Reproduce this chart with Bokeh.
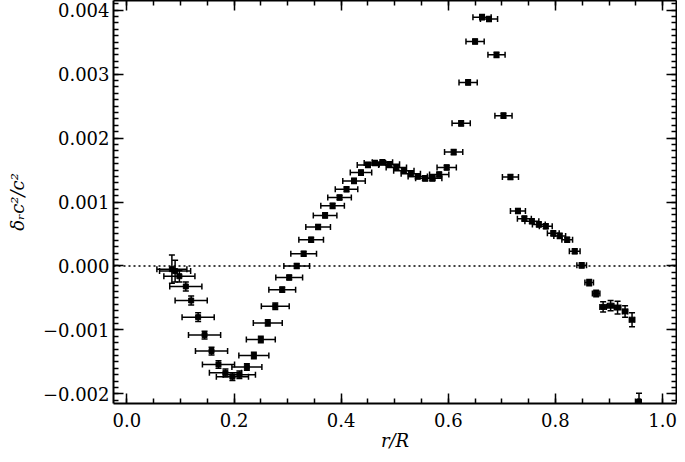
from bokeh.plotting import figure
from bokeh.models import (ColumnDataSource, Whisker, TeeHead, Span, LinearAxis,
                          SingleIntervalTicker, CustomJSTickFormatter, Range1d)
from bokeh.embed import file_html
from bokeh.resources import INLINE

# ---- data ----
r = [0.084, 0.090, 0.098, 0.110, 0.120, 0.133, 0.145, 0.158, 0.171, 0.184,
     0.197, 0.210, 0.224, 0.237, 0.250, 0.263, 0.277, 0.290, 0.303, 0.317,
     0.330, 0.344, 0.357, 0.370, 0.384, 0.397, 0.410, 0.424, 0.437, 0.450,
     0.463, 0.477, 0.490, 0.503, 0.517, 0.530, 0.543, 0.557, 0.570, 0.583,
     0.597, 0.610, 0.624, 0.637, 0.650, 0.663, 0.676, 0.690, 0.703, 0.716,
     0.730, 0.742, 0.756, 0.769, 0.782, 0.796, 0.808, 0.822, 0.836, 0.849,
     0.863, 0.876, 0.889, 0.903, 0.916, 0.930, 0.943, 0.956]

dc2 = [-0.00005, -0.00008, -0.00016, -0.00032, -0.00054, -0.00080, -0.00108, -0.00133, -0.00154, -0.00167,
       -0.00173, -0.00170, -0.00158, -0.00140, -0.00115, -0.00089, -0.00063, -0.00037, -0.00018, 0.00000,
       0.00019, 0.00041, 0.00061, 0.00079, 0.00094, 0.00107, 0.00120, 0.00133, 0.00146, 0.00158,
       0.00161, 0.00162, 0.00159, 0.00154, 0.00149, 0.00144, 0.00140, 0.00137, 0.00137, 0.00143,
       0.00154, 0.00178, 0.00223, 0.00287, 0.00351, 0.00389, 0.00386, 0.00330, 0.00235, 0.00139,
       0.00086, 0.00074, 0.00070, 0.00065, 0.00062, 0.00051, 0.00047, 0.00041, 0.00023, 0.00001,
       -0.00026, -0.00043, -0.00064, -0.00062, -0.00065, -0.00071, -0.00084, -0.00212]

r_err = [0.028, 0.029, 0.029, 0.030, 0.030, 0.030, 0.030, 0.030, 0.030, 0.030,
         0.030, 0.030, 0.028, 0.028, 0.027, 0.027, 0.026, 0.025, 0.025, 0.024,
         0.024, 0.023, 0.023, 0.022, 0.022, 0.022, 0.021, 0.021, 0.020, 0.020,
         0.020, 0.019, 0.019, 0.019, 0.019, 0.018, 0.018, 0.018, 0.018, 0.018,
         0.018, 0.017, 0.017, 0.017, 0.017, 0.017, 0.016, 0.016, 0.016, 0.015,
         0.014, 0.013, 0.013, 0.012, 0.012, 0.011, 0.011, 0.010, 0.010, 0.009,
         0.008, 0.007, 0.006, 0.006, 0.006, 0.005, 0.005, 0.002]

dc2_err = [0.00022, 0.00017, 0.00009, 0.00007, 0.00007, 0.00007, 0.00006, 0.00006, 0.00006, 0.00006,
           0.00006, 0.00006, 0.00005, 0.00005, 0.00005, 0.00005, 0.00005, 0.00004, 0.00004, 0.00004,
           0.00004, 0.00004, 0.00004, 0.00004, 0.00004, 0.00004, 0.00004, 0.00004, 0.00004, 0.00004,
           0.00004, 0.00004, 0.00004, 0.00004, 0.00004, 0.00004, 0.00004, 0.00004, 0.00004, 0.00004,
           0.00004, 0.00004, 0.00004, 0.00004, 0.00004, 0.00004, 0.00004, 0.00004, 0.00004, 0.00004,
           0.00004, 0.00004, 0.00004, 0.00004, 0.00004, 0.00004, 0.00004, 0.00004, 0.00004, 0.00004,
           0.00005, 0.00005, 0.00008, 0.00008, 0.00010, 0.00009, 0.00011, 0.00013]

assert len(r) == len(dc2) == len(r_err) == len(dc2_err)

x_range = (-0.025, 1.026)
y_range = (-0.00215, 0.00415)

src = ColumnDataSource(dict(
    x=r, y=dc2,
    xl=[a - e for a, e in zip(r, r_err)], xu=[a + e for a, e in zip(r, r_err)],
    yl=[a - e for a, e in zip(dc2, dc2_err)], yu=[a + e for a, e in zip(dc2, dc2_err)],
))

FONT = "DejaVu Serif"

p = figure(width=677, height=454, output_backend="svg", toolbar_location=None,
           x_range=Range1d(*x_range), y_range=Range1d(*y_range),
           min_border_left=113, min_border_right=1, min_border_top=0, min_border_bottom=51)
p.grid.visible = False
p.outline_line_color = None
p.background_fill_color = "white"
p.border_fill_color = "white"

xt = SingleIntervalTicker(interval=0.2, num_minor_ticks=4)
yt = SingleIntervalTicker(interval=0.001, num_minor_ticks=10)

xfmt = CustomJSTickFormatter(code="return (Math.abs(tick) < 1e-9 ? 0 : tick).toFixed(1).replace('-', '\u2212');")
yfmt = CustomJSTickFormatter(code="return (Math.abs(tick) < 1e-12 ? 0 : tick).toFixed(3).replace('-', '\u2212');")
blank = CustomJSTickFormatter(code="return '';")


def style(ax, labels=True):
    ax.axis_line_width = 2
    ax.axis_line_color = "black"
    ax.major_tick_in = 10
    ax.major_tick_out = 0
    ax.minor_tick_in = 5
    ax.minor_tick_out = 0
    ax.major_tick_line_width = 1.5
    ax.minor_tick_line_width = 1.5
    ax.major_tick_line_color = "black"
    ax.minor_tick_line_color = "black"
    if labels:
        ax.major_label_text_font = FONT
        ax.major_label_text_font_size = "18px"
        ax.major_label_text_color = "black"
        ax.axis_label_text_font = FONT
        ax.axis_label_text_font_size = "18px"
        ax.axis_label_text_font_style = "italic"
        ax.axis_label_text_color = "black"
    else:
        ax.major_label_text_font_size = "0px"
        ax.major_label_standoff = 0


p.xaxis.ticker = xt
p.xaxis.formatter = xfmt
p.xaxis.axis_label = "r/R"
p.yaxis.ticker = yt
p.yaxis.formatter = yfmt
p.yaxis.axis_label = "δᵣc²/c²"
style(p.xaxis[0])
style(p.yaxis[0])
p.xaxis.major_label_standoff = 9
p.yaxis.major_label_standoff = 4
p.xaxis.axis_label_standoff = 0
p.yaxis.axis_label_standoff = 12

top = LinearAxis(ticker=SingleIntervalTicker(interval=0.2, num_minor_ticks=4), formatter=blank)
right = LinearAxis(ticker=SingleIntervalTicker(interval=0.001, num_minor_ticks=10), formatter=blank)
style(top, labels=False)
style(right, labels=False)
p.add_layout(top, "above")
p.add_layout(right, "right")

p.add_layout(Span(location=0, dimension="width", line_color="black",
                  line_width=1.5, line_dash="2 3"))

p.add_layout(Whisker(source=src, base="y", lower="xl", upper="xu", dimension="width",
                     line_color="black", line_width=1.5,
                     lower_head=TeeHead(size=6, line_color="black", line_width=1.5),
                     upper_head=TeeHead(size=6, line_color="black", line_width=1.5)))
p.add_layout(Whisker(source=src, base="x", lower="yl", upper="yu", dimension="height",
                     line_color="black", line_width=1.5,
                     lower_head=TeeHead(size=6, line_color="black", line_width=1.5),
                     upper_head=TeeHead(size=6, line_color="black", line_width=1.5)))
p.scatter("x", "y", source=src, marker="square", size=5, color="black")

open("out.html", "w").write(file_html(p, INLINE))
